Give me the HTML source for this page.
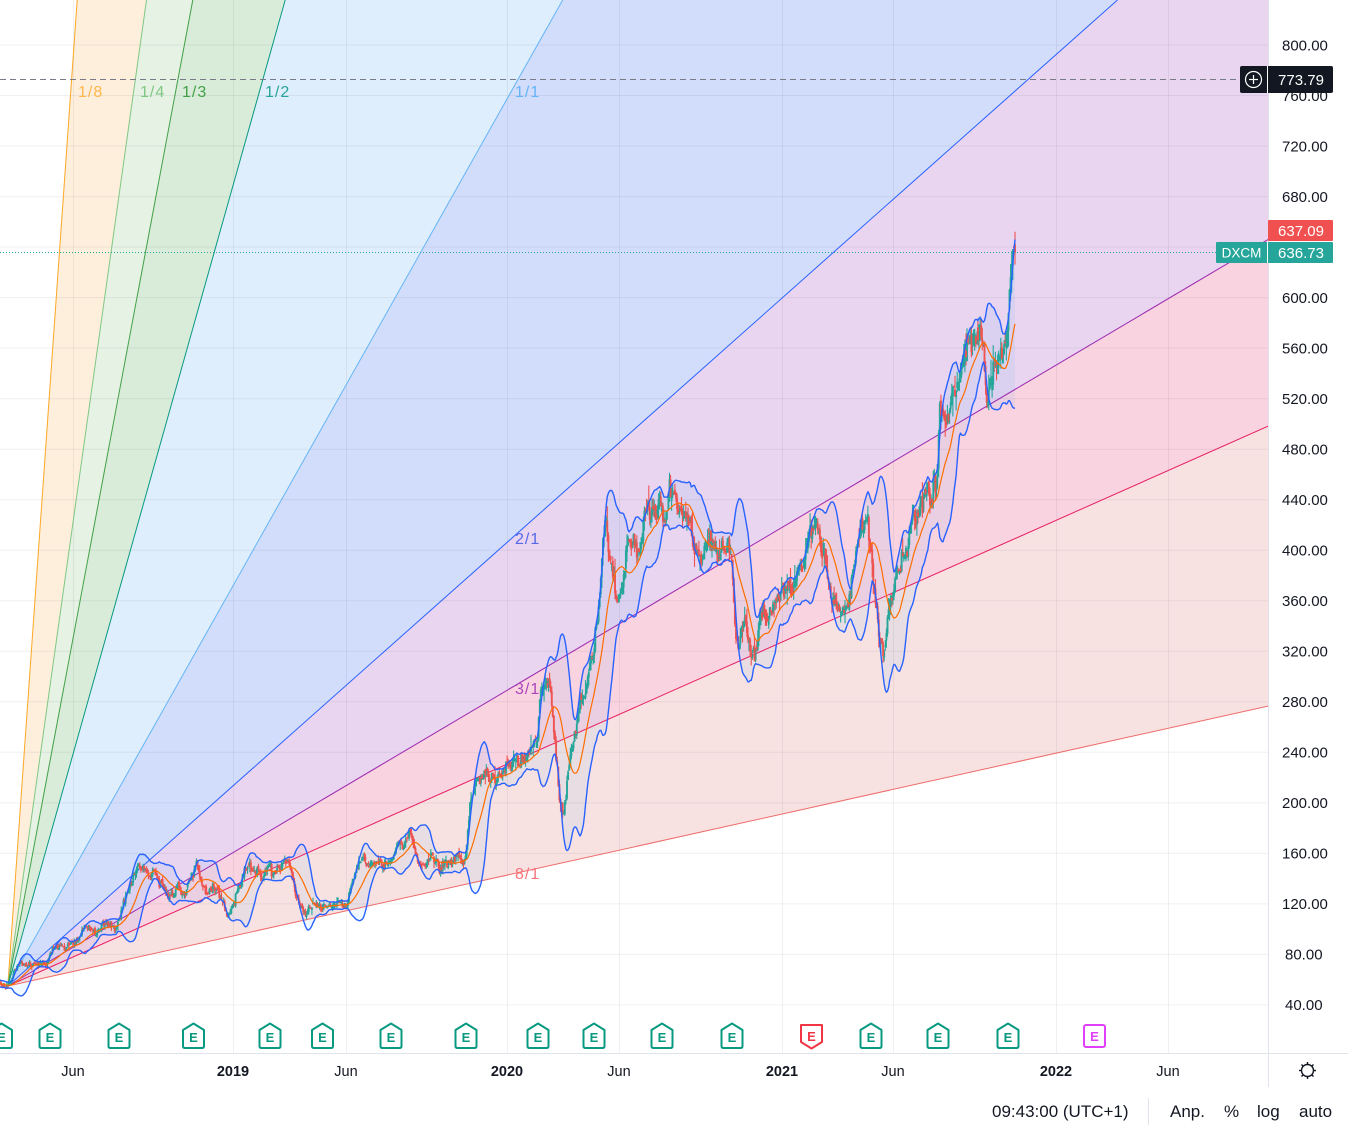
<!DOCTYPE html>
<html><head><meta charset="utf-8">
<style>
html,body{margin:0;padding:0;background:#fff;}
svg{display:block;font-family:"Liberation Sans",sans-serif;}
</style></head>
<body>
<svg id="s" width="1348" height="1135" viewBox="0 0 1348 1135" xmlns="http://www.w3.org/2000/svg">
<defs><clipPath id="pc"><rect x="0" y="0" width="1268" height="1053"/></clipPath></defs>
<rect width="1348" height="1135" fill="#fff"/>
<g clip-path="url(#pc)">
  <polygon points="7.8,986 77.2,0 146.5,0" fill="#fdefdc"/>
  <polygon points="7.8,986 146.5,0 192.8,0" fill="#e5f2e4"/>
  <polygon points="7.8,986 192.8,0 285.2,0" fill="#d9ecd9"/>
  <polygon points="7.8,986 285.2,0 562.7,0" fill="#dfeefc"/>
  <polygon points="7.8,986 562.7,0 1117.5,0" fill="#d2ddfc"/>
  <polygon points="7.8,986 1117.5,0 1268,0 1268,239.6" fill="#e9d5f0"/>
  <polygon points="7.8,986 1268,239.6 1268,426.2" fill="#f9d3e0"/>
  <polygon points="7.8,986 1268,426.2 1268,706.1" fill="#f8e2e1"/>
  <g stroke="rgba(42,46,57,0.07)" stroke-width="1">
    <line x1="0" y1="45" x2="1268" y2="45"/>
    <line x1="0" y1="95.5" x2="1268" y2="95.5"/>
    <line x1="0" y1="146" x2="1268" y2="146"/>
    <line x1="0" y1="196.6" x2="1268" y2="196.6"/>
    <line x1="0" y1="247" x2="1268" y2="247"/>
    <line x1="0" y1="297.6" x2="1268" y2="297.6"/>
    <line x1="0" y1="348" x2="1268" y2="348"/>
    <line x1="0" y1="398.7" x2="1268" y2="398.7"/>
    <line x1="0" y1="449.3" x2="1268" y2="449.3"/>
    <line x1="0" y1="499.8" x2="1268" y2="499.8"/>
    <line x1="0" y1="550.3" x2="1268" y2="550.3"/>
    <line x1="0" y1="600.8" x2="1268" y2="600.8"/>
    <line x1="0" y1="651.3" x2="1268" y2="651.3"/>
    <line x1="0" y1="701.8" x2="1268" y2="701.8"/>
    <line x1="0" y1="752.3" x2="1268" y2="752.3"/>
    <line x1="0" y1="802.9" x2="1268" y2="802.9"/>
    <line x1="0" y1="853.4" x2="1268" y2="853.4"/>
    <line x1="0" y1="903.9" x2="1268" y2="903.9"/>
    <line x1="0" y1="954.4" x2="1268" y2="954.4"/>
    <line x1="0" y1="1004.9" x2="1268" y2="1004.9"/>
    <line x1="73.5" y1="0" x2="73.5" y2="1053"/>
    <line x1="233.5" y1="0" x2="233.5" y2="1053"/>
    <line x1="346.5" y1="0" x2="346.5" y2="1053"/>
    <line x1="507.5" y1="0" x2="507.5" y2="1053"/>
    <line x1="619.5" y1="0" x2="619.5" y2="1053"/>
    <line x1="782.5" y1="0" x2="782.5" y2="1053"/>
    <line x1="893.5" y1="0" x2="893.5" y2="1053"/>
    <line x1="1056.5" y1="0" x2="1056.5" y2="1053"/>
    <line x1="1168.5" y1="0" x2="1168.5" y2="1053"/>
  </g>
  <g id="bbfill"></g>
  <g stroke-width="1" fill="none">
    <line x1="7.8" y1="986" x2="77.2" y2="0" stroke="#ffa726"/>
    <line x1="7.8" y1="986" x2="146.5" y2="0" stroke="#81c784"/>
    <line x1="7.8" y1="986" x2="192.8" y2="0" stroke="#43a047"/>
    <line x1="7.8" y1="986" x2="285.2" y2="0" stroke="#089981"/>
    <line x1="7.8" y1="986" x2="562.7" y2="0" stroke="#64b5f6"/>
    <line x1="7.8" y1="986" x2="1117.5" y2="0" stroke="#2962ff"/>
    <line x1="7.8" y1="986" x2="1268" y2="239.6" stroke="#9c27b0"/>
    <line x1="7.8" y1="986" x2="1268" y2="426.2" stroke="#e91e63"/>
    <line x1="7.8" y1="986" x2="1268" y2="706.1" stroke="#ef6b6b"/>
  </g>
  <g id="candles"></g>
  <g id="bblines"></g>
  <g font-size="16" letter-spacing="1">
    <text x="78" y="97" fill="#ffb74d">1/8</text>
    <text x="140" y="97" fill="#81c784">1/4</text>
    <text x="182" y="97" fill="#43a047">1/3</text>
    <text x="265" y="97" fill="#26a69a">1/2</text>
    <text x="515" y="97" fill="#64b5f6">1/1</text>
    <text x="515" y="544" fill="#5468e8">2/1</text>
    <text x="515" y="694" fill="#ab47bc">3/1</text>
    <text x="515" y="879" fill="#f7727a">8/1</text>
  </g>
  <line x1="0" y1="79.5" x2="1240" y2="79.5" stroke="#787b86" stroke-width="1" stroke-dasharray="6 4"/>
  <line x1="0" y1="252.5" x2="1216" y2="252.5" stroke="#26a69a" stroke-width="1" stroke-dasharray="1 2"/>
  <g stroke-width="2" stroke-linejoin="round" fill="#fff">
    <g stroke="#089981">
      <path d="M1.5,1023.5 L12,1030 V1046 Q12,1048 10,1048 H-7 Q-9,1048 -9,1046 V1030 Z"/>
      <path d="M50,1023.5 L60.5,1030 V1046 Q60.5,1048 58.5,1048 H41.5 Q39.5,1048 39.5,1046 V1030 Z"/>
      <path d="M119,1023.5 L129.5,1030 V1046 Q129.5,1048 127.5,1048 H110.5 Q108.5,1048 108.5,1046 V1030 Z"/>
      <path d="M193.5,1023.5 L204,1030 V1046 Q204,1048 202,1048 H185 Q183,1048 183,1046 V1030 Z"/>
      <path d="M270,1023.5 L280.5,1030 V1046 Q280.5,1048 278.5,1048 H261.5 Q259.5,1048 259.5,1046 V1030 Z"/>
      <path d="M322.5,1023.5 L333,1030 V1046 Q333,1048 331,1048 H314 Q312,1048 312,1046 V1030 Z"/>
      <path d="M391,1023.5 L401.5,1030 V1046 Q401.5,1048 399.5,1048 H382.5 Q380.5,1048 380.5,1046 V1030 Z"/>
      <path d="M466,1023.5 L476.5,1030 V1046 Q476.5,1048 474.5,1048 H457.5 Q455.5,1048 455.5,1046 V1030 Z"/>
      <path d="M538,1023.5 L548.5,1030 V1046 Q548.5,1048 546.5,1048 H529.5 Q527.5,1048 527.5,1046 V1030 Z"/>
      <path d="M594,1023.5 L604.5,1030 V1046 Q604.5,1048 602.5,1048 H585.5 Q583.5,1048 583.5,1046 V1030 Z"/>
      <path d="M662,1023.5 L672.5,1030 V1046 Q672.5,1048 670.5,1048 H653.5 Q651.5,1048 651.5,1046 V1030 Z"/>
      <path d="M732,1023.5 L742.5,1030 V1046 Q742.5,1048 740.5,1048 H723.5 Q721.5,1048 721.5,1046 V1030 Z"/>
      <path d="M871,1023.5 L881.5,1030 V1046 Q881.5,1048 879.5,1048 H862.5 Q860.5,1048 860.5,1046 V1030 Z"/>
      <path d="M938,1023.5 L948.5,1030 V1046 Q948.5,1048 946.5,1048 H929.5 Q927.5,1048 927.5,1046 V1030 Z"/>
      <path d="M1008,1023.5 L1018.5,1030 V1046 Q1018.5,1048 1016.5,1048 H999.5 Q997.5,1048 997.5,1046 V1030 Z"/>
    </g>
    <path d="M801,1025 H822 V1042 L811.5,1048.5 L801,1042 Z" stroke="#f23645"/>
    <rect x="1084" y="1025" width="21" height="22" rx="2" stroke="#e040fb"/>
  </g>
  <g font-size="13" font-weight="bold" text-anchor="middle" fill="#089981">
    <text x="1.5" y="1042">E</text>
    <text x="50" y="1042">E</text>
    <text x="119" y="1042">E</text>
    <text x="193.5" y="1042">E</text>
    <text x="270" y="1042">E</text>
    <text x="322.5" y="1042">E</text>
    <text x="391" y="1042">E</text>
    <text x="466" y="1042">E</text>
    <text x="538" y="1042">E</text>
    <text x="594" y="1042">E</text>
    <text x="662" y="1042">E</text>
    <text x="732" y="1042">E</text>
    <text x="871" y="1042">E</text>
    <text x="938" y="1042">E</text>
    <text x="1008" y="1042">E</text>
    <text x="811.5" y="1041" fill="#f23645">E</text>
    <text x="1094.5" y="1041" fill="#e040fb">E</text>
  </g>
</g>
<line x1="1268.5" y1="0" x2="1268.5" y2="1087" stroke="#e0e3eb" stroke-width="1"/>
<line x1="0" y1="1053.5" x2="1348" y2="1053.5" stroke="#e0e3eb" stroke-width="1"/>
<g font-size="15" fill="#131722">
  <text x="1282" y="-0.5">840.00</text>
  <text x="1282" y="50.5">800.00</text>
  <text x="1282" y="101">760.00</text>
  <text x="1282" y="151.5">720.00</text>
  <text x="1282" y="202">680.00</text>
  <text x="1282" y="303">600.00</text>
  <text x="1282" y="353.5">560.00</text>
  <text x="1282" y="404">520.00</text>
  <text x="1282" y="454.5">480.00</text>
  <text x="1282" y="505">440.00</text>
  <text x="1282" y="555.5">400.00</text>
  <text x="1282" y="606">360.00</text>
  <text x="1282" y="656.5">320.00</text>
  <text x="1282" y="707">280.00</text>
  <text x="1282" y="757.5">240.00</text>
  <text x="1282" y="808">200.00</text>
  <text x="1282" y="858.5">160.00</text>
  <text x="1282" y="909">120.00</text>
  <text x="1285" y="959.5">80.00</text>
  <text x="1285" y="1010">40.00</text>
</g>
<rect x="1240" y="66" width="93" height="27" rx="2" fill="#131722"/>
<line x1="1267.5" y1="66" x2="1267.5" y2="93" stroke="#fff" stroke-width="1"/>
<circle cx="1253.5" cy="79.5" r="8" fill="none" stroke="#fff" stroke-width="1.2"/>
<line x1="1249" y1="79.5" x2="1258" y2="79.5" stroke="#fff" stroke-width="1.2"/>
<line x1="1253.5" y1="75" x2="1253.5" y2="84" stroke="#fff" stroke-width="1.2"/>
<text x="1301" y="85" font-size="15" fill="#fff" text-anchor="middle">773.79</text>
<rect x="1268" y="220" width="65" height="21" rx="1" fill="#f0504f"/>
<text x="1301" y="236" font-size="15" fill="#fff" text-anchor="middle">637.09</text>
<rect x="1216" y="242" width="117" height="21" rx="1" fill="#26a69a"/>
<line x1="1267.5" y1="242" x2="1267.5" y2="263" stroke="#fff" stroke-width="1"/>
<text x="1241.5" y="257.5" font-size="13.5" fill="#fff" text-anchor="middle">DXCM</text>
<text x="1301" y="258" font-size="15" fill="#fff" text-anchor="middle">636.73</text>
<g font-size="14.5" fill="#131722" text-anchor="middle">
  <text x="73" y="1076">Jun</text>
  <text x="233" y="1076" font-weight="bold">2019</text>
  <text x="346" y="1076">Jun</text>
  <text x="507" y="1076" font-weight="bold">2020</text>
  <text x="619" y="1076">Jun</text>
  <text x="782" y="1076" font-weight="bold">2021</text>
  <text x="893" y="1076">Jun</text>
  <text x="1056" y="1076" font-weight="bold">2022</text>
  <text x="1168" y="1076">Jun</text>
</g>
<g stroke="#131722" stroke-width="1.4" fill="none">
  <circle cx="1307.5" cy="1070.5" r="6"/>
  <line x1="1307.5" y1="1062" x2="1307.5" y2="1064.5"/>
  <line x1="1307.5" y1="1076.5" x2="1307.5" y2="1079"/>
  <line x1="1299" y1="1070.5" x2="1301.5" y2="1070.5"/>
  <line x1="1313.5" y1="1070.5" x2="1316" y2="1070.5"/>
  <line x1="1301.5" y1="1064.5" x2="1303.2" y2="1066.2"/>
  <line x1="1311.8" y1="1074.8" x2="1313.5" y2="1076.5"/>
  <line x1="1313.5" y1="1064.5" x2="1311.8" y2="1066.2"/>
  <line x1="1303.2" y1="1074.8" x2="1301.5" y2="1076.5"/>
</g>
<line x1="1148.5" y1="1098" x2="1148.5" y2="1125" stroke="#e0e3eb" stroke-width="1"/>
<g font-size="17" fill="#131722">
  <text x="992" y="1117">09:43:00 (UTC+1)</text>
  <text x="1170" y="1117">Anp.</text>
  <text x="1224" y="1117">%</text>
  <text x="1257" y="1117">log</text>
  <text x="1299" y="1117">auto</text>
</g>
</svg>
<script>
(function(){
var NS='http://www.w3.org/2000/svg';
var KP=[[-40,984],[0,983],[4,986],[7,985],[10,980],[14,972],[18,967],[24,965],[30,963],[38,964],[46,962],[50,956],[53,948],[60,946],[70,944],[78,942],[83,933],[90,930],[100,927],[110,924],[116,929],[120,920],[124,900],[128,888],[133,877],[138,870],[145,870],[152,874],[158,878],[163,880],[168,895],[173,898],[178,889],[185,889],[190,878],[196,866],[201,878],[207,893],[213,888],[218,892],[223,905],[227,917],[231,912],[236,897],[242,880],[248,866],[255,870],[262,876],[270,868],[278,870],[285,866],[292,872],[296,895],[300,905],[306,913],[312,906],[320,904],[330,907],[340,903],[346,906],[350,890],[355,872],[360,860],[370,864],[380,863],[390,860],[398,853],[404,842],[410,831],[414,845],[419,862],[425,866],[432,858],[440,863],[450,864],[458,858],[464,866],[467,842],[470,803],[474,785],[479,775],[484,770],[490,778],[497,779],[503,772],[510,766],[517,760],[524,762],[531,752],[537,746],[540,705],[543,680],[547,688],[551,700],[555,735],[559,790],[563,818],[566,795],[570,750],[575,728],[580,715],[585,695],[590,668],[595,645],[599,610],[602,540],[605,518],[609,540],[613,570],[617,598],[621,590],[626,560],[632,555],[639,565],[644,525],[649,505],[655,512],[660,500],[665,515],[670,488],[675,500],[681,505],[686,518],[691,525],[695,552],[700,568],[705,562],[710,555],[716,560],[722,555],[728,550],[732,557],[735,620],[738,650],[742,620],[746,610],[750,638],[755,655],[760,625],[765,615],[771,608],[777,598],[783,590],[789,588],[795,585],[800,570],[806,552],[812,535],[817,525],[822,550],[828,578],[833,598],[838,605],[843,615],[848,600],[853,572],[858,545],[863,525],[868,515],[872,560],[876,600],[880,632],[884,640],[888,612],[893,597],[898,577],[904,552],[910,530],[916,515],[922,502],[928,493],[934,486],[937,478],[940,402],[943,408],[946,425],[950,415],[955,398],[960,382],[965,366],[970,354],[975,345],[980,330],[983,346],[986,373],[990,368],[994,380],[998,370],[1002,358],[1006,352],[1008,305],[1010,262],[1012,246],[1014,241],[1016,252]];
function f(x){
  if(x<=KP[0][0])return KP[0][1];
  for(var i=1;i<KP.length;i++){
    if(x<=KP[i][0]){var a=KP[i-1],b=KP[i];return a[1]+(b[1]-a[1])*(x-a[0])/(b[0]-a[0]);}
  }
  return KP[KP.length-1][1];
}
var s=123456789;
function r(){s^=s<<13;s^=s>>>17;s^=s<<5;return ((s>>>0)+0.5)/4294967296;}
function g(){return Math.sqrt(-2*Math.log(r()))*Math.cos(6.283185*r());}
var dx=1.09, N=956, bars=[], ar=0, prev=f(1015-N*dx);
for(var k=N;k>=0;k--){
  var x=1015-k*dx;
  var base=f(x);
  var p=800-(base-45)/1.2632;
  var v=1.1+p/62;
  ar=0.6*ar+g()*v*0.8;
  var c=base+ar;
  if(k<=2){c=base+ar*0.3;}
  if(k===0){c=252.5;}
  var o=prev+g()*v*0.3;
  var hi=Math.min(o,c)-Math.abs(g())*v*0.8;
  var lo=Math.max(o,c)+Math.abs(g())*v*0.8;
  if(k===0){hi=Math.min(hi,235);}
  bars.push({x:x,o:o,c:c,hi:hi,lo:lo});
  prev=c;
}
function el(tag,attrs,parent){var e=document.createElementNS(NS,tag);for(var a in attrs)e.setAttribute(a,attrs[a]);parent.appendChild(e);return e;}
var gw='',rw='',gb='',rb='';
for(var i=0;i<bars.length;i++){
  var b=bars[i]; if(b.x<-1)continue;
  var xs=b.x.toFixed(1);
  var w='M'+xs+' '+b.hi.toFixed(1)+'V'+b.lo.toFixed(1);
  var t=Math.min(b.o,b.c), bt=Math.max(b.o,b.c); if(bt-t<1){bt=t+1;}
  var bd='M'+xs+' '+t.toFixed(1)+'V'+bt.toFixed(1);
  if(b.c<=b.o){gw+=w;gb+=bd;}else{rw+=w;rb+=bd;}
}
var cg=document.getElementById('candles');
el('path',{d:gw,stroke:'#26a69a','stroke-width':'1.1',fill:'none'},cg);
el('path',{d:rw,stroke:'#ef5350','stroke-width':'1.1',fill:'none'},cg);
el('path',{d:gb,stroke:'#26a69a','stroke-width':'1.9',fill:'none'},cg);
el('path',{d:rb,stroke:'#ef5350','stroke-width':'1.9',fill:'none'},cg);
var up=[],lw=[],md=[];
for(var i=0;i<bars.length;i++){
  var a=Math.max(0,i-19),sum=0,n=0;
  for(var j=a;j<=i;j++){sum+=bars[j].c;n++;}
  var m=sum/n,vv=0;
  for(var j=a;j<=i;j++){vv+=(bars[j].c-m)*(bars[j].c-m);}
  var sd=Math.sqrt(vv/n);
  if(bars[i].x>=-2){up.push([bars[i].x,m-2*sd]);lw.push([bars[i].x,m+2*sd]);md.push([bars[i].x,m]);}
}
function pth(pts){return 'M'+pts.map(function(q){return q[0].toFixed(1)+' '+q[1].toFixed(1);}).join('L');}
var fillPts=up.concat(lw.slice().reverse());
el('path',{d:pth(fillPts)+'Z',fill:'rgba(33,150,243,0.07)',stroke:'none'},document.getElementById('bbfill'));
var bl=document.getElementById('bblines');
el('path',{d:pth(md),stroke:'#ff6d00','stroke-width':'1.2',fill:'none','stroke-linejoin':'round'},bl);
el('path',{d:pth(up),stroke:'#2962ff','stroke-width':'1.4',fill:'none','stroke-linejoin':'round'},bl);
el('path',{d:pth(lw),stroke:'#2962ff','stroke-width':'1.4',fill:'none','stroke-linejoin':'round'},bl);
})();
</script>
</body></html>
